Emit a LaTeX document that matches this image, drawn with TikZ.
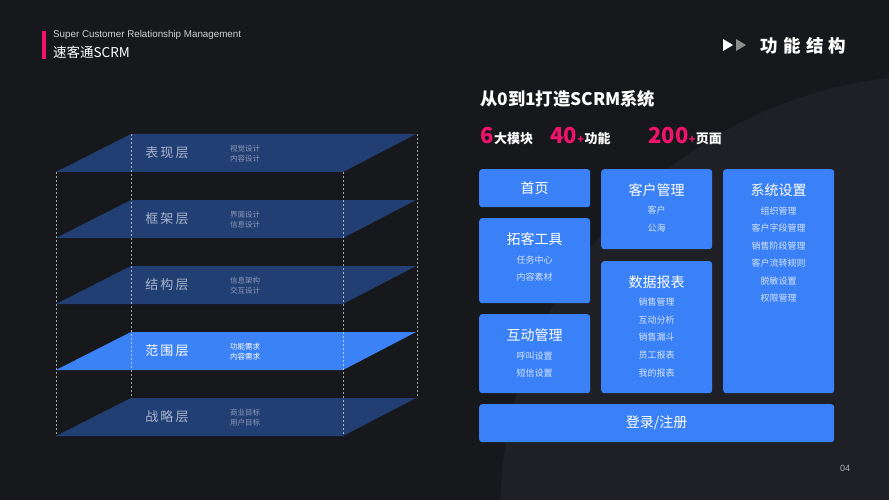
\documentclass[tikz,border=0pt]{standalone}
\usepackage{fontspec}
\setmainfont{Noto Sans CJK SC}
\newfontfamily\arialf{Liberation Sans}
\newfontfamily\cjkwide{Noto Sans CJK SC}[LetterSpace=31]
\newfontfamily\cjklayer{Noto Sans CJK SC}[LetterSpace=16]
\newcommand\myfs[1]{\fontsize{#1}{#1}\selectfont}
\definecolor{bg}{HTML}{17181C}
\definecolor{bgc}{HTML}{1E2025}
\definecolor{pinkc}{HTML}{F0136D}
\definecolor{layerdark}{HTML}{223F74}
\definecolor{layerhl}{HTML}{3B82F6}
\definecolor{boxblue}{HTML}{3A80F6}
\definecolor{itemc}{HTML}{D6E4FF}
\definecolor{layertext}{HTML}{A8B5CD}
\definecolor{layersub}{HTML}{8D9AB5}
\tikzset{
  box/.style={fill=boxblue, rounded corners=3pt, inner sep=0pt, anchor=north west},
  boxtitle/.style={text=white, font=\myfs{14}, inner sep=0pt},
  boxitem/.style={text=itemc, font=\myfs{9}, inner sep=0pt},
  layerlabel/.style={text=layertext, font=\cjklayer\myfs{13}, inner sep=0pt},
  layersublabel/.style={text=layersub, font=\myfs{7.5}, align=left, inner sep=0pt, anchor=west},
  guide/.style={draw=white, draw opacity=0.6, line width=0.7pt, dash pattern=on 2pt off 2pt},
  stat/.style={inner sep=0pt, anchor=base west},
}
\begin{document}
\begin{tikzpicture}[x=1pt,y=-1pt]
\useasboundingbox (0,0) rectangle (889,500);
\fill[bg] (0,0) rectangle (889,500);
\begin{scope}
  \clip (0,0) rectangle (889,500);
  \fill[bgc] (940,515) circle[radius=440pt];
\end{scope}

% header
\fill[pinkc] (42,31) rectangle (45.7,59);
\node (sub) [anchor=base west, inner sep=0pt, text=white!82!black, font=\arialf\myfs{9.8}] at (53,38) {Super Customer Relationship Management};
\node (brand) [anchor=west, inner sep=0pt, text=white, font=\myfs{13.5}] at (53,52) {速客通SCRM};
\fill[white] (723,39) -- (733,45) -- (723,51) -- cycle;
\fill[white!55!black] (736,39) -- (746,45) -- (736,51) -- cycle;
\node (sect) [anchor=west, inner sep=0pt, text=white, font=\cjkwide\bfseries\myfs{17.5}] at (760,46) {功能结构};

% layers
\foreach \t in {134,200,266,398}{
  \fill[layerdark] (56,{\t+38}) -- (343,{\t+38}) -- (416,\t) -- (131,\t) -- cycle;
}
\fill[layerhl] (56,370) -- (343,370) -- (416,332) -- (131,332) -- cycle;

% guides
\draw[guide] (56,172) -- (56,436);
\draw[guide] (343,172) -- (343,436);
\draw[guide] (131,134) -- (131,398);
\draw[guide] (417,134) -- (417,398);

\node (l1) [layerlabel] at (167,153) {表现层};
\node (l1s) [layersublabel] at (230,154) {视觉设计\\[2.5pt]内容设计};
\node (l2) [layerlabel] at (167,219) {框架层};
\node (l2s) [layersublabel] at (230,220) {界面设计\\[2.5pt]信息设计};
\node (l3) [layerlabel] at (167,285) {结构层};
\node (l3s) [layersublabel] at (230,286) {信息架构\\[2.5pt]交互设计};
\node (l4) [layerlabel, text=white] at (167,351) {范围层};
\node (l4s) [layersublabel, text=white] at (230,352) {功能需求\\[2.5pt]内容需求};
\node (l5) [layerlabel] at (167,417) {战略层};
\node (l5s) [layersublabel] at (230,418) {商业目标\\[2.5pt]用户目标};

% right title
\node (title) [anchor=west, inner sep=0pt, text=white, font=\bfseries\myfs{17.3}] at (480,99) {从0到1打造SCRM系统};
\node (n1) [stat, text=pinkc, font=\bfseries\myfs{22}] at (480,143) {6};
\node (t1) [stat, text=white, font=\bfseries\myfs{13}] at (n1.base east) {大模块};
\node (n2) [stat, text=pinkc, font=\bfseries\myfs{22}] at (550,143) {40};
\node (p2) [stat, text=pinkc, font=\bfseries\myfs{11}] at (n2.base east) {+};
\node (t2) [stat, text=white, font=\bfseries\myfs{13}] at (p2.base east) {功能};
\node (n3) [stat, text=pinkc, font=\bfseries\myfs{22}] at (648,143) {200};
\node (p3) [stat, text=pinkc, font=\bfseries\myfs{11}] at (n3.base east) {+};
\node (t3) [stat, text=white, font=\bfseries\myfs{13}] at (p3.base east) {页面};

% boxes
\node (home) [box, minimum width=111pt, minimum height=38pt] at (479,169) {};
\node (tuoke) [box, minimum width=111pt, minimum height=85pt] at (479,218) {};
\node (hudong) [box, minimum width=111pt, minimum height=79pt] at (479,314) {};
\node (kehu) [box, minimum width=111pt, minimum height=80pt] at (601,169) {};
\node (shuju) [box, minimum width=111pt, minimum height=132pt] at (601,261) {};
\node (xitong) [box, minimum width=111pt, minimum height=224pt] at (723,169) {};
\node (login) [box, minimum width=355pt, minimum height=38pt] at (479,404) {};

\node (homet) [boxtitle] at (home.center) {首页};
\node (loginet) [boxtitle] at (login.center) {登录/注册};

\node (tuoket) [boxtitle] at (534.5,239) {拓客工具};
\node (tuoke1) [boxitem] at (534.5,260) {任务中心};
\node (tuoke2) [boxitem] at (534.5,277) {内容素材};

\node (hudongt) [boxtitle] at (534.5,335) {互动管理};
\node (hudong1) [boxitem] at (534.5,356) {呼叫设置};
\node (hudong2) [boxitem] at (534.5,373) {短信设置};

\node (kehut) [boxtitle] at (656.5,190) {客户管理};
\node (kehu1) [boxitem] at (656.5,210) {客户};
\node (kehu2) [boxitem] at (656.5,228) {公海};

\node (shujut) [boxtitle] at (656.5,282) {数据报表};
\node (shuju1) [boxitem] at (656.5,302) {销售管理};
\node (shuju2) [boxitem] at (656.5,320) {互动分析};
\node (shuju3) [boxitem] at (656.5,337.5) {销售漏斗};
\node (shuju4) [boxitem] at (656.5,355) {员工报表};
\node (shuju5) [boxitem] at (656.5,373) {我的报表};

\node (xitongt) [boxtitle] at (778.5,190) {系统设置};
\node (xitong1) [boxitem] at (778.5,211) {组织管理};
\node (xitong2) [boxitem] at (778.5,228.5) {客户字段管理};
\node (xitong3) [boxitem] at (778.5,246) {销售阶段管理};
\node (xitong4) [boxitem] at (778.5,263.5) {客户流转规则};
\node (xitong5) [boxitem] at (778.5,281) {脱敏设置};
\node (xitong6) [boxitem] at (778.5,298.5) {权限管理};

\node (page) [anchor=center, inner sep=0pt, text=white!70!black, font=\arialf\myfs{9}] at (845,468) {04};
\end{tikzpicture}
\end{document}
